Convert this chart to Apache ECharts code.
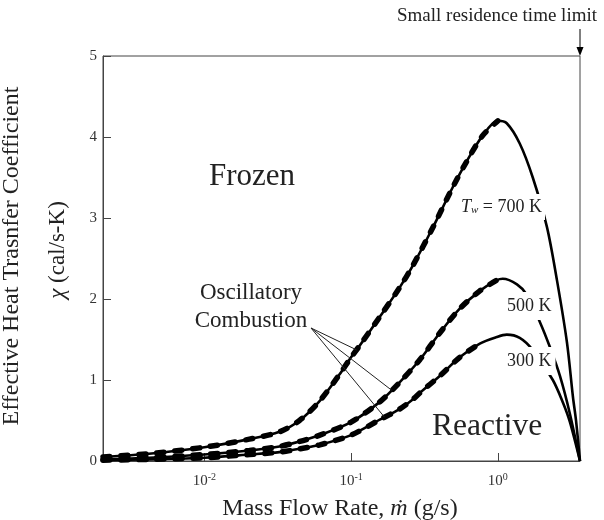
<!DOCTYPE html>
<html>
<head>
<meta charset="utf-8">
<script src="https://cdn.jsdelivr.net/npm/echarts@6/dist/echarts.min.js"></script>
<style>
  html, body { margin: 0; padding: 0; background: #fff; }
  #chart { width: 604px; height: 520px; }
</style>
</head>
<body>
<div id="chart"></div>
<script>
// Mass flow rate (g/s) and effective heat transfer coefficient (cal/s-K) for each wall temperature
const massFlow700 = [0.00204, 0.0042, 0.01, 0.0203, 0.0325, 0.0445, 0.061, 0.0835, 0.1, 0.114, 0.157, 0.214, 0.263, 0.36, 0.493, 0.614, 0.79, 1.0, 1.15, 1.41, 1.73, 2.16, 2.53, 2.96, 3.25, 3.41, 3.63];
const chi700 = [0.05, 0.09, 0.17, 0.27, 0.36, 0.5, 0.74, 1.07, 1.28, 1.42, 1.78, 2.14, 2.41, 2.88, 3.38, 3.70, 4.02, 4.2, 4.17, 3.92, 3.5, 2.89, 2.23, 1.46, 0.79, 0.5, 0];

const massFlow500 = [0.00204, 0.0042, 0.01, 0.0203, 0.0325, 0.0445, 0.0613, 0.1, 0.157, 0.214, 0.294, 0.402, 0.55, 0.754, 0.98, 1.08, 1.35, 1.58, 1.93, 2.26, 2.65, 3.10, 3.63];
const chi500 = [0.02, 0.04, 0.08, 0.13, 0.18, 0.24, 0.32, 0.48, 0.73, 0.97, 1.25, 1.58, 1.88, 2.1, 2.23, 2.25, 2.18, 2.05, 1.72, 1.41, 1.05, 0.58, 0];

const massFlow300 = [0.00204, 0.0042, 0.01, 0.0203, 0.0325, 0.0445, 0.0613, 0.1, 0.157, 0.214, 0.263, 0.294, 0.402, 0.55, 0.754, 0.98, 1.15, 1.41, 1.73, 2.37, 2.78, 3.10, 3.63];
const chi300 = [0.01, 0.02, 0.04, 0.08, 0.11, 0.15, 0.2, 0.32, 0.51, 0.64, 0.76, 0.84, 1.05, 1.28, 1.45, 1.53, 1.56, 1.52, 1.37, 1.0, 0.72, 0.48, 0];

// Upper end of the oscillatory-combustion branch of each curve (g/s)
const oscillatoryLimit = { t700: 1.0, t500: 0.98, t300: 0.754 };

// Axis ranges and ticks
const xRange = [0.00204, 3.63];
const xTickValues = [0.01, 0.1, 1];
const yRange = [0, 5];
const yStep = 1;

// Points on the curves that the "Oscillatory Combustion" pointers reach (g/s)
const pointerTargets = [
  { flow: massFlow700, chi: chi700, m: 0.109 },
  { flow: massFlow500, chi: chi500, m: 0.189 },
  { flow: massFlow300, chi: chi300, m: 0.169 }
];

const SERIF = '"Liberation Serif", "Times New Roman", "DejaVu Serif", serif';
const INK = '#222';

function pairs(flow, chi) {
  return flow.map((m, i) => [m, chi[i]]);
}
function oscillatory(flow, chi, limit) {
  return pairs(flow, chi).filter(p => p[0] <= limit + 1e-9);
}
function interp(flow, chi, m) {
  const lm = Math.log10(m);
  for (let i = 0; i < flow.length - 1; i++) {
    const a = Math.log10(flow[i]), b = Math.log10(flow[i + 1]);
    if (lm >= a && lm <= b) {
      return chi[i] + (chi[i + 1] - chi[i]) * (lm - a) / (b - a);
    }
  }
  return chi[chi.length - 1];
}

const baseLine = { color: '#000', width: 2.6 };
const dashLine = { color: '#000', width: 5.5, type: [7, 11], cap: 'round' };

function curve(name, flow, chi) {
  return {
    name, type: 'line', data: pairs(flow, chi), showSymbol: false,
    smooth: 0.3, lineStyle: baseLine, z: 2, silent: true
  };
}
function dashed(name, flow, chi, limit) {
  return {
    name: name + ' oscillatory', type: 'line', data: oscillatory(flow, chi, limit), showSymbol: false,
    smooth: 0.3, lineStyle: dashLine, z: 3, silent: true
  };
}

const chart = echarts.init(document.getElementById('chart'), null, { renderer: 'canvas' });

chart.setOption({
  animation: false,
  backgroundColor: '#fff',
  textStyle: { fontFamily: SERIF, color: INK },
  grid: { left: 103, right: 24, top: 56, bottom: 59, show: true, borderColor: '#444', borderWidth: 1 },
  xAxis: {
    type: 'log', logBase: 10, min: xRange[0], max: xRange[1],
    axisLine: { show: true, lineStyle: { color: '#444', width: 1 } },
    axisTick: { show: true, inside: true, length: 8, customValues: xTickValues, lineStyle: { color: '#444' } },
    minorTick: { show: false },
    splitLine: { show: false },
    axisLabel: {
      customValues: xTickValues, margin: 11,
      formatter: v => '{b|10}{s|' + Math.round(Math.log10(v)) + '}',
      rich: {
        b: { fontFamily: SERIF, fontSize: 15, color: '#333', lineHeight: 18 },
        s: { fontFamily: SERIF, fontSize: 10, color: '#333', verticalAlign: 'top', lineHeight: 12 }
      }
    }
  },
  yAxis: {
    type: 'value', min: yRange[0], max: yRange[1], interval: yStep,
    axisLine: { show: true, lineStyle: { color: '#444', width: 1 } },
    axisTick: { show: true, inside: true, length: 8, lineStyle: { color: '#444' } },
    splitLine: { show: false },
    axisLabel: { fontFamily: SERIF, fontSize: 15, color: '#333', margin: 6 }
  },
  series: [
    curve('700 K', massFlow700, chi700),
    curve('500 K', massFlow500, chi500),
    curve('300 K', massFlow300, chi300),
    dashed('700 K', massFlow700, chi700, oscillatoryLimit.t700),
    dashed('500 K', massFlow500, chi500, oscillatoryLimit.t500),
    dashed('300 K', massFlow300, chi300, oscillatoryLimit.t300)
  ]
});

// Annotations: axis titles, region names, curve labels, pointers and the residence-time arrow
const toPx = p => chart.convertToPixel({ gridIndex: 0 }, p);
const limitTop = toPx([xRange[1], yRange[1]]);
const pointerStart = [311, 328];

const graphics = [
  {
    type: 'text', x: 12, y: 256, rotation: Math.PI / 2,
    style: { text: 'Effective Heat Trasnfer Coefficient', font: '24px ' + SERIF, fill: INK, align: 'center', verticalAlign: 'middle' }
  },
  {
    type: 'text', x: 58, y: 250, rotation: Math.PI / 2,
    style: {
      text: '{i|χ} (cal/s-K)', align: 'center', verticalAlign: 'middle',
      rich: {
        i: { fontFamily: SERIF, fontSize: 23, fontStyle: 'italic', fill: INK }
      },
      font: '23px ' + SERIF, fill: INK
    }
  },
  {
    type: 'text', x: 340, y: 509,
    style: {
      text: 'Mass Flow Rate, {i|ṁ} (g/s)', align: 'center', verticalAlign: 'middle',
      font: '24px ' + SERIF, fill: INK,
      rich: { i: { fontFamily: SERIF, fontSize: 24, fontStyle: 'italic', fill: INK } }
    }
  },
  {
    type: 'text', x: 209, y: 177,
    style: { text: 'Frozen', font: '31px ' + SERIF, fill: INK, align: 'left', verticalAlign: 'middle' }
  },
  {
    type: 'text', x: 432, y: 427,
    style: { text: 'Reactive', font: '31.5px ' + SERIF, fill: INK, align: 'left', verticalAlign: 'middle' }
  },
  {
    type: 'text', x: 251, y: 307,
    style: { text: 'Oscillatory\nCombustion', font: '23px ' + SERIF, fill: INK, align: 'center', verticalAlign: 'middle', lineHeight: 28 }
  },
  {
    type: 'text', x: 458, y: 207, z: 20,
    style: {
      text: '{i|T}{sub|w} = 700 K', align: 'left', verticalAlign: 'middle',
      font: '18px ' + SERIF, fill: INK, backgroundColor: '#fff', padding: [4, 3, 4, 3],
      rich: {
        i: { fontFamily: SERIF, fontSize: 18, fontStyle: 'italic', fill: INK },
        sub: { fontFamily: SERIF, fontSize: 11, fontStyle: 'italic', fill: INK, verticalAlign: 'bottom', padding: [6, 0, 0, 0] }
      }
    }
  },
  {
    type: 'text', x: 505, y: 306, z: 20,
    style: { text: '500 K', font: '18px ' + SERIF, fill: INK, align: 'left', verticalAlign: 'middle', backgroundColor: '#fff', padding: [5, 4, 5, 2] }
  },
  {
    type: 'text', x: 505, y: 361, z: 20,
    style: { text: '300 K', font: '18px ' + SERIF, fill: INK, align: 'left', verticalAlign: 'middle', backgroundColor: '#fff', padding: [5, 4, 5, 2] }
  },
  {
    type: 'text', x: 597, y: 16,
    style: { text: 'Small residence time limit', font: '19px ' + SERIF, fill: INK, align: 'right', verticalAlign: 'middle' }
  },
  {
    type: 'line', z: 20,
    shape: { x1: limitTop[0], y1: 29, x2: limitTop[0], y2: limitTop[1] - 6 },
    style: { stroke: '#000', lineWidth: 1 }
  },
  {
    type: 'polygon', z: 20,
    shape: { points: [[limitTop[0] - 3.5, limitTop[1] - 9], [limitTop[0] + 3.5, limitTop[1] - 9], [limitTop[0], limitTop[1]]] },
    style: { fill: '#000' }
  }
];

pointerTargets.forEach(t => {
  const end = toPx([t.m, interp(t.flow, t.chi, t.m)]);
  graphics.push({
    type: 'line', z: 20,
    shape: { x1: pointerStart[0], y1: pointerStart[1], x2: end[0], y2: end[1] },
    style: { stroke: '#222', lineWidth: 1 }
  });
});

chart.setOption({ graphic: graphics });
</script>
</body>
</html>
